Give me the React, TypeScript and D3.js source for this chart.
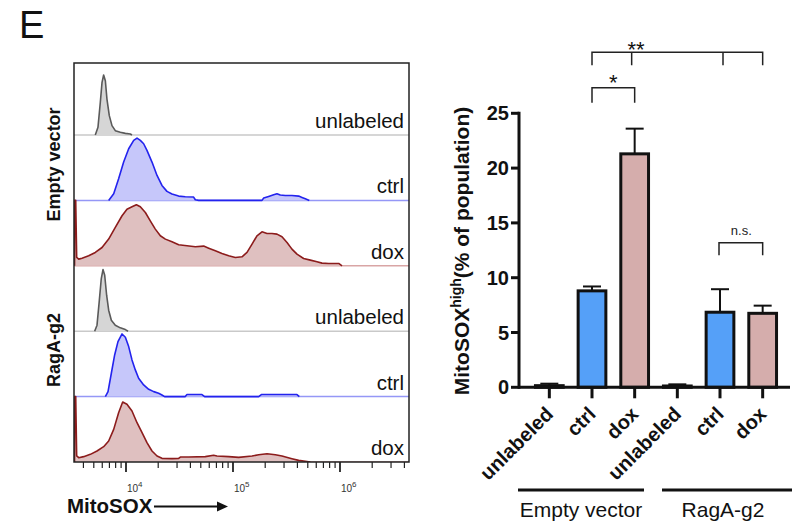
import React from 'react';
import * as d3 from 'd3';

// ---------- Histogram data: [log10(MitoSOX intensity), % of panel height] ----------
const histRowLabels = ['unlabeled', 'ctrl', 'dox', 'unlabeled', 'ctrl', 'dox'];
const histRowKinds = ['gray', 'blue', 'red', 'gray', 'blue', 'red'];
const histGroupLabels = ['Empty vector', 'RagA-g2'];
const histDecadeLabels = [4, 5, 6];

const evUnlabeled: [number, number][] = [
  [3.713, 0], [3.738, 11.7], [3.760, 50], [3.776, 80.5], [3.791, 91.7], [3.807, 83],
  [3.822, 55], [3.844, 29.6], [3.869, 14.3], [3.900, 6.6], [3.947, 4.1], [3.994, 2.5],
  [4.040, 1.5], [4.056, 0],
];
const evCtrl: [number, number][] = [
  [3.838, 0], [3.885, 10.2], [3.931, 33.1], [3.978, 58.6], [4.025, 79], [4.072, 91.7],
  [4.103, 95.3], [4.134, 91.7], [4.165, 86.6], [4.196, 76.5], [4.243, 58.6], [4.290, 38.2],
  [4.336, 22.9], [4.383, 13.8], [4.430, 9.7], [4.492, 6.6], [4.554, 5.6], [4.632, 5.1],
  [4.648, 1], [4.679, 0], [5.271, 0], [5.287, 3.6], [5.333, 6.1], [5.380, 8.7],
  [5.411, 10.2], [5.442, 8.2], [5.489, 7.6], [5.551, 7.6], [5.614, 6.6], [5.645, 4.6],
  [5.676, 2.5], [5.713, 0],
];
const evDox: [number, number][] = [
  [3.519, 0], [3.522, 100], [3.530, 100], [3.539, 12.7], [3.558, 10.2], [3.589, 11.7],
  [3.651, 15.3], [3.713, 20.4], [3.776, 28], [3.838, 40.8], [3.900, 58.6], [3.963, 76.5],
  [4.009, 86.6], [4.056, 90.2], [4.097, 93.3], [4.134, 90.2], [4.181, 81.5], [4.227, 68.8],
  [4.274, 56.1], [4.321, 45.9], [4.368, 40.8], [4.430, 36.7], [4.492, 32.1], [4.570, 30.6],
  [4.648, 29.1], [4.726, 30.1], [4.773, 27], [4.835, 22.9], [4.897, 18.9], [4.960, 15.3],
  [5.022, 12.7], [5.084, 13.8], [5.131, 20.4], [5.178, 33.1], [5.224, 45.9], [5.271, 52],
  [5.318, 49.4], [5.364, 49.4], [5.411, 48.4], [5.458, 44.3], [5.505, 35.7], [5.551, 25.5],
  [5.598, 17.8], [5.660, 11.2], [5.723, 8.7], [5.785, 6.1], [5.832, 4.1], [5.894, 3.6],
  [5.988, 3.6], [6.019, 0],
];
const ragUnlabeled: [number, number][] = [
  [3.707, 0], [3.729, 9.2], [3.751, 47.4], [3.769, 80.5], [3.785, 94.3], [3.801, 85.6],
  [3.819, 55], [3.838, 32.1], [3.863, 16.8], [3.900, 9.2], [3.947, 5.1], [3.994, 2.5],
  [4.019, 0],
];
const ragCtrl: [number, number][] = [
  [3.807, 0], [3.832, 7.6], [3.863, 35.7], [3.894, 63.7], [3.925, 84.1], [3.963, 95.8],
  [3.994, 90.7], [4.025, 76.5], [4.056, 56.1], [4.087, 40.8], [4.118, 28], [4.165, 17.8],
  [4.212, 11.2], [4.259, 7.6], [4.305, 5.1], [4.336, 2.5], [4.361, 0], [4.554, 0],
  [4.570, 3.1], [4.710, 3.1], [4.735, 0], [5.240, 0], [5.265, 3.1], [5.598, 3.1],
  [5.620, 0],
];
const ragDox: [number, number][] = [
  [3.519, 0], [3.522, 100], [3.530, 100], [3.539, 9.2], [3.558, 6.6], [3.604, 8.2],
  [3.667, 11.7], [3.729, 16.8], [3.791, 23.4], [3.838, 32.1], [3.885, 49.9], [3.931, 75.4],
  [3.969, 91.7], [4.009, 88.2], [4.056, 78], [4.103, 60.1], [4.150, 44.9], [4.196, 29.6],
  [4.243, 16.8], [4.290, 9.2], [4.336, 5.6], [4.430, 5.1], [4.492, 5.6], [4.508, 7.6],
  [4.586, 7.6], [4.741, 8.2], [4.819, 10.2], [4.850, 9.2], [4.960, 8.2], [5.053, 7.1],
  [5.178, 9.2], [5.240, 11.2], [5.318, 12.7], [5.396, 11.2], [5.458, 9.2], [5.551, 5.1],
  [5.614, 2.5], [5.723, 0],
];
const histSeries = [evUnlabeled, evCtrl, evDox, ragUnlabeled, ragCtrl, ragDox];

// ---------- Bar chart data ----------
const barCategories = ['unlabeled', 'ctrl', 'dox', 'unlabeled', 'ctrl', 'dox'];
const barKinds = ['none', 'blue', 'red', 'none', 'blue', 'red'];
const barMeans = [0.15, 8.8, 21.3, 0.12, 6.85, 6.75];
const barErrors = [0.18, 0.4, 2.3, 0.15, 2.1, 0.7];
const barYTicks = [0, 5, 10, 15, 20, 25];
const barGroups = ['Empty vector', 'RagA-g2'];

const FONT = 'Liberation Sans, Arial, Helvetica, sans-serif';

const histColors: Record<string, { fill: string; stroke: string; base: string }> = {
  gray: { fill: '#d6d6d6', stroke: '#5a5a5a', base: '#c9c9c9' },
  blue: { fill: '#c6c7fa', stroke: '#2323ee', base: '#9597f6' },
  red: { fill: '#dfc0c0', stroke: '#8c1c1c', base: '#d9a5a5' },
};
const barFill: Record<string, string> = { none: '#ffffff', blue: '#55a0f8', red: '#d5adac' };

function Histograms() {
  const left = 74, right = 409, boxTop = 63, boxBottom = 462;
  const x = d3.scaleLog().domain([10 ** 3.514, 10 ** 6.645]).range([left, right]);
  const rows = d3.range(histSeries.length);
  const band = d3.scaleBand<number>().domain(rows).range([boxBottom - 6 * 65.4, boxBottom]);
  const area = d3.area<[number, number]>();
  const line = d3.line<[number, number]>();

  const majors = [1e4, 1e5, 1e6];
  const minorTicks: number[] = [];
  for (let e = 3; e <= 6; e++) {
    for (let m = 2; m <= 9; m++) {
      const v = m * 10 ** e;
      if (v >= x.domain()[0] && v <= x.domain()[1]) minorTicks.push(v);
    }
  }

  return (
    <g>
      <defs>
        <clipPath id="histClip">
          <rect x={left} y={boxTop} width={right - left} height={boxBottom - boxTop} />
        </clipPath>
      </defs>
      <g clipPath="url(#histClip)">
        {rows.map((i) => {
          const base = (band(i) as number) + band.bandwidth();
          const y = d3.scaleLinear().domain([0, 100]).range([base, base - band.bandwidth()]);
          const c = histColors[histRowKinds[i]];
          const pts = histSeries[i];
          const a = area
            .x((d) => x(10 ** d[0]))
            .y0(base)
            .y1((d) => y(d[1]))(pts) as string;
          const l = line.x((d) => x(10 ** d[0])).y((d) => y(d[1]))(pts) as string;
          return (
            <g key={i}>
              <line x1={left} x2={right} y1={base} y2={base} stroke={c.base} strokeWidth={1.5} />
              <path d={a} fill={c.fill} stroke="none" />
              <path d={l} fill="none" stroke={c.stroke} strokeWidth={1.6} strokeLinejoin="round" />
            </g>
          );
        })}
      </g>
      {rows.map((i) => {
        const base = (band(i) as number) + band.bandwidth();
        return (
          <text key={'lab' + i} x={404} y={base - 7} textAnchor="end" fontFamily={FONT} fontSize={20.5} fill="#111">
            {histRowLabels[i]}
          </text>
        );
      })}
      <rect x={left} y={boxTop} width={right - left} height={boxBottom - boxTop} fill="none" stroke="#222" strokeWidth={1.5} />
      {minorTicks.map((v, k) => (
        <line key={'mt' + k} x1={x(v)} x2={x(v)} y1={boxBottom} y2={boxBottom + 6} stroke="#222" strokeWidth={1.2} />
      ))}
      {majors.map((v, k) => (
        <line key={'Mt' + k} x1={x(v)} x2={x(v)} y1={boxBottom} y2={boxBottom + 10} stroke="#222" strokeWidth={1.8} />
      ))}
      {histDecadeLabels.map((e) => (
        <text key={'dl' + e} x={x(10 ** e) + 1} y={492} fontFamily={FONT} fontSize={10} fill="#333">
          10
          <tspan dy={-5} fontSize={8}>{e}</tspan>
        </text>
      ))}
      <text
        transform={`translate(60,${(boxTop + (band(2) as number) + band.bandwidth()) / 2}) rotate(-90)`}
        textAnchor="middle" fontFamily={FONT} fontWeight="bold" fontSize={18} fill="#111"
      >
        {histGroupLabels[0]}
      </text>
      <text
        transform={`translate(60,350) rotate(-90)`}
        textAnchor="middle" fontFamily={FONT} fontWeight="bold" fontSize={18} fill="#111"
      >
        {histGroupLabels[1]}
      </text>
      <text x={67} y={513} fontFamily={FONT} fontWeight="bold" fontSize={20.5} fill="#111">MitoSOX</text>
      <line x1={154} x2={218} y1={506.5} y2={506.5} stroke="#111" strokeWidth={2} />
      <path d="M217,501.5 L228,506.5 L217,511.5 Z" fill="#111" />
    </g>
  );
}

function Bars() {
  const y = d3.scaleLinear().domain([0, 25]).range([387.3, 113.3]);
  const idx = d3.range(barCategories.length);
  const x = d3.scaleBand<number>().domain(idx).range([528, 784]).paddingInner(0.35).paddingOuter(0.175);
  const axisX = 519;
  const cx = (i: number) => (x(i) as number) + x.bandwidth() / 2;

  const bracket = (pts: number[], yTop: number, drop: number) => {
    const d = [`M${pts[0]},${yTop + drop} L${pts[0]},${yTop} L${pts[pts.length - 1]},${yTop} L${pts[pts.length - 1]},${yTop + drop}`];
    for (let k = 1; k < pts.length - 1; k++) d.push(`M${pts[k]},${yTop} L${pts[k]},${yTop + drop}`);
    return d.join(' ');
  };

  return (
    <g fontFamily={FONT}>
      {idx.map((i) => {
        const top = y(barMeans[i]);
        const errTop = y(barMeans[i] + barErrors[i]);
        return (
          <g key={i}>
            <line x1={cx(i)} x2={cx(i)} y1={top} y2={errTop} stroke="#111" strokeWidth={2} />
            <line x1={cx(i) - 9} x2={cx(i) + 9} y1={errTop} y2={errTop} stroke="#111" strokeWidth={2} />
            <rect x={x(i)} y={top} width={x.bandwidth()} height={y(0) - top} fill={barFill[barKinds[i]]} stroke="#111" strokeWidth={3} />
          </g>
        );
      })}
      <line x1={axisX} x2={axisX} y1={y(25) - 1.5} y2={y(0) + 1.5} stroke="#111" strokeWidth={3} />
      <line x1={axisX} x2={790} y1={y(0)} y2={y(0)} stroke="#111" strokeWidth={3} />
      {barYTicks.map((t) => (
        <g key={'yt' + t}>
          <line x1={axisX - 8} x2={axisX} y1={y(t)} y2={y(t)} stroke="#111" strokeWidth={3} />
          <text x={axisX - 10} y={y(t)} dy="0.35em" textAnchor="end" fontWeight="bold" fontSize={20} fill="#111">{t}</text>
        </g>
      ))}
      {idx.map((i) => (
        <g key={'xt' + i}>
          <line x1={cx(i)} x2={cx(i)} y1={y(0)} y2={y(0) + 11} stroke="#111" strokeWidth={3} />
          <text transform={`translate(${cx(i) + 5},${y(0) + 28}) rotate(-45)`} textAnchor="end" fontWeight="bold" fontSize={20} fill="#111">
            {barCategories[i]}
          </text>
        </g>
      ))}
      <text transform="translate(469,251) rotate(-90)" textAnchor="middle" fontWeight="bold" fontSize={21} fill="#111">
        MitoSOX<tspan dy={-8} fontSize={14}>high</tspan><tspan dy={8}>(% of population)</tspan>
      </text>
      {/* significance brackets */}
      <path d={bracket([cx(1), cx(2) - 3, cx(4) + 3, cx(5)], 52.3, 13)} fill="none" stroke="#222" strokeWidth={1.5} />
      <text x={636} y={57} textAnchor="middle" fontSize={22} fill="#111">**</text>
      <path d={bracket([cx(1), cx(2)], 87.7, 15)} fill="none" stroke="#222" strokeWidth={1.5} />
      <text x={(cx(1) + cx(2)) / 2} y={90} textAnchor="middle" fontSize={22} fill="#111">*</text>
      <path d={bracket([cx(4) - 1, cx(5)], 242.7, 12.5)} fill="none" stroke="#222" strokeWidth={1.5} />
      <text x={(cx(4) + cx(5)) / 2} y={235} textAnchor="middle" fontSize={13} fill="#222">n.s.</text>
      {/* group lines */}
      <line x1={518} x2={644} y1={490} y2={490} stroke="#111" strokeWidth={3} />
      <text x={581} y={517} textAnchor="middle" fontSize={21} fill="#111">{barGroups[0]}</text>
      <line x1={662} x2={792} y1={490} y2={490} stroke="#111" strokeWidth={3} />
      <text x={723} y={517} textAnchor="middle" fontSize={21} fill="#111">{barGroups[1]}</text>
    </g>
  );
}

export default function App() {
  return (
    <svg width={792} height={529} style={{ position: 'absolute', left: 0, top: 0, background: '#fff' }}>
      <rect width={792} height={529} fill="#fff" />
      <text x={19} y={38} fontFamily={FONT} fontSize={38} fill="#111">E</text>
      <Histograms />
      <Bars />
    </svg>
  );
}
